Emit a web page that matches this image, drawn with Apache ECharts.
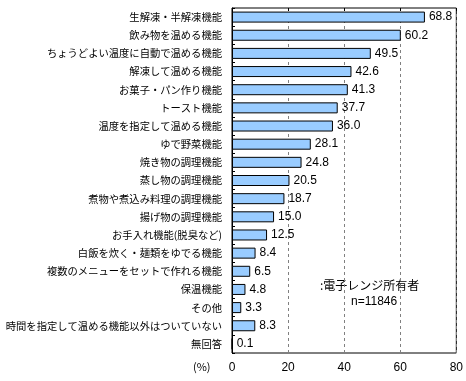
<!DOCTYPE html>
<html><head><meta charset="utf-8">
<script src="https://cdn.jsdelivr.net/npm/echarts@6/dist/echarts.min.js"></script>
<style>html,body{margin:0;padding:0;background:#fff}#c{width:466px;height:381px}</style>
</head><body><div id="c"></div>
<script>
var categories = ["生解凍・半解凍機能","飲み物を温める機能","ちょうどよい温度に自動で温める機能","解凍して温める機能","お菓子・パン作り機能","トースト機能","温度を指定して温める機能","ゆで野菜機能","焼き物の調理機能","蒸し物の調理機能","煮物や煮込み料理の調理機能","揚げ物の調理機能","お手入れ機能(脱臭など)","白飯を炊く・麺類をゆでる機能","複数のメニューをセットで作れる機能","保温機能","その他","時間を指定して温める機能以外はついていない","無回答"];
var values = [68.8,60.2,49.5,42.6,41.3,37.7,36.0,28.1,24.8,20.5,18.7,15.0,12.5,8.4,6.5,4.8,3.3,8.3,0.1];
var xTicks = [0,20,40,60,80];

var chart = echarts.init(document.getElementById('c'), null, {renderer:'canvas'});
var JP = '"Noto Sans CJK JP", sans-serif';
chart.setOption({
  animation:false,
  grid:{left:232,right:9,top:8,bottom:28,show:true,borderColor:'#000',borderWidth:1},
  xAxis:[{
    type:'value',min:xTicks[0],max:xTicks[xTicks.length-1],interval:20,position:'bottom',
    axisLine:{show:false},axisTick:{show:false},
    axisLabel:{color:'#000',fontSize:12,fontFamily:'Liberation Sans, sans-serif',margin:9},
    splitLine:{show:true,lineStyle:{color:'#808080',type:[3,3],width:1}}
  },{
    type:'value',min:xTicks[0],max:xTicks[xTicks.length-1],interval:20,position:'top',
    axisLine:{show:false},axisTick:{show:true,inside:true,length:3,lineStyle:{color:'#000'}},
    axisLabel:{show:false},splitLine:{show:false}
  }],
  yAxis:{
    type:'category',data:categories,inverse:true,
    axisLine:{show:true,lineStyle:{color:'#000'}},
    axisTick:{show:true,inside:true,length:3,lineStyle:{color:'#000'}},
    axisLabel:{color:'#000',fontSize:10.3,fontFamily:JP,margin:10}
  },
  series:[{
    type:'bar',data:values,barWidth:11,xAxisIndex:0,
    itemStyle:{color:'#99CCFF',borderColor:'#000',borderWidth:1},
    label:{show:true,position:'right',distance:4,color:'#000',fontSize:12,fontFamily:'Liberation Sans, sans-serif',
      formatter:function(p){return p.value.toFixed(1);}}
  }],
  graphic:[
    {type:'text',left:193,top:361,style:{text:'(%)',fill:'#000',font:'11px '+JP}},
    {type:'text',left:320,top:279,style:{text:':電子レンジ所有者',fill:'#000',font:'12px '+JP}},
    {type:'text',left:351,top:296,style:{text:'n=11846',fill:'#000',font:'12px Liberation Sans, sans-serif'}}
  ]
});
</script></body></html>
